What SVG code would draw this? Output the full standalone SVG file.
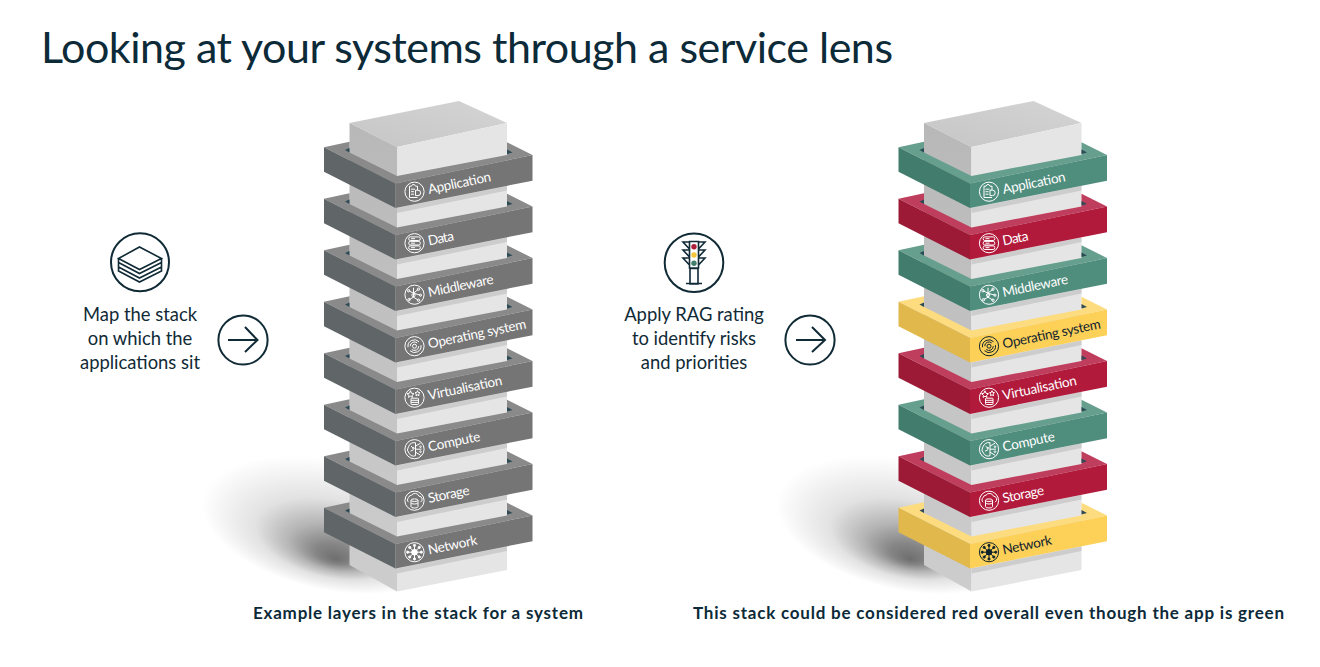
<svg xmlns="http://www.w3.org/2000/svg" width="1320" height="667" viewBox="0 0 1320 667">
<style>
.title{font:400 43px Lato,"Liberation Sans",sans-serif;fill:#0c2a38}
.body{font:400 18.4px Lato,"Liberation Sans",sans-serif;fill:#102a36;text-anchor:middle}
.cap{font:700 17px Lato,"Liberation Sans",sans-serif;fill:#0c2a38}
.lbl{font:400 13.5px Lato,"Liberation Sans",sans-serif;fill:currentColor}
.badge{fill:#fff;stroke:#102a36;stroke-width:2}
.ln{fill:none;stroke:#102a36;stroke-width:1.6;stroke-linejoin:miter}
.ic{fill:none;stroke:currentColor;stroke-width:1}
.gray{--t:#8a8a8a;--l:#606568;--r:#757575;color:#fff}
.green{--t:#669f8e;--l:#417c6c;--r:#4f8d7d;color:#fff}
.red{--t:#c03e5d;--l:#9c1a36;--r:#b21a3c;color:#fff}
.yellow{--t:#fddc7f;--l:#e0b84c;--r:#fdd058;color:#10242e}
.rt{fill:var(--t)}.rl{fill:var(--l)}.rr{fill:var(--r)}
</style>
<defs>
<radialGradient id="sh" gradientUnits="userSpaceOnUse" cx="0" cy="0" r="1" fx="0.1" fy="0.5" gradientTransform="translate(330 525) rotate(12) scale(130 65)">
<stop offset="0" stop-color="#6e6e6e"/><stop offset="0.15" stop-color="#858585"/><stop offset="0.35" stop-color="#b5b5b5"/><stop offset="0.6" stop-color="#e2e2e2"/><stop offset="1" stop-color="#fff"/>
</radialGradient>
<linearGradient id="cl" x1="0" y1="0" x2="0" y2="1"><stop offset="0" stop-color="#b8b8b8"/><stop offset="1" stop-color="#cdcdcd"/></linearGradient>
<linearGradient id="ct" x1="0" y1="1" x2="1" y2="0"><stop offset="0" stop-color="#c6c6c6"/><stop offset="1" stop-color="#d4d4d4"/></linearGradient>
<g id="shadow"><rect x="190" y="440" width="290" height="180" fill="url(#sh)"/></g>
<g id="column">
<polygon points="349.5,123 459,101 507,123 397,147" fill="url(#ct)"/>
<polygon points="349.5,123 397,147 397,591.5 349.5,565" fill="url(#cl)"/>
<polygon points="397,147 507,123 507,570 397,591.5" fill="#e5e5e5"/>
</g>
<g id="ring">
<polygon points="397,208 507,186 507,190.5 397,213" fill="#cdcdcd"/>
<polygon class="rt" points="324,147.3 349.5,141.7 349.5,152.5 397,176 507,155 507,142.3 532.5,155 395.5,183.5"/>
<polygon points="345,150 349.5,148 349.5,152.5" fill="#2d4a55"/>
<polygon points="507,149.5 512.5,152.5 507,154" fill="#2d4a55"/>
<polygon class="rl" points="324,147.3 395.5,183.5 395.5,208 324,171.7"/>
<polygon class="rr" points="395.5,183.5 532.5,155 532.5,180.7 395.5,208"/>
</g>
<g id="i-app" class="ic"><circle r="9.6"/><path d="M-5-5.5h2l1-1.6h2l1 1.6h2v4M3 5.8h-8v-11.3M-3.5-2.5h4M-3.5 0h3M-3.5 2.5h3M1-1.5h2.5a2.7 2.7 0 0 1 0 5.4H1z"/></g>
<g id="i-data" class="ic"><circle r="9.6"/><rect x="-5.8" y="-6.3" width="11.6" height="3.6" rx="1.6"/><rect x="-5.8" y="-1.8" width="11.6" height="3.6" rx="1.6"/><rect x="-5.8" y="2.7" width="11.6" height="3.6" rx="1.6"/><path d="M-3.5-4.5h4M-3.5 0h4M-3.5 4.5h4"/></g>
<g id="i-mw" class="ic"><circle r="9.6"/><path d="M-6-4-1-1.5 4-5.5M-1-1.5-1 2.5-5.5 5M-1 2.5 4 5.5M-1-1.5 6 .5M-1-7V-1.5"/><circle cx="-6" cy="-4" r="1.2"/><circle cx="4" cy="-5.5" r="1.2"/><circle cx="-5.5" cy="5" r="1.2"/><circle cx="4" cy="5.5" r="1.2"/><circle cx="6" cy=".5" r="1.1"/><circle cx="-1" cy=".5" r="1.6"/></g>
<g id="i-os" class="ic"><circle r="9.6"/><path d="M-6.5 1a6.5 6.5 0 0 1 11-5.5M6.5-1a6.5 6.5 0 0 1-11 5.5M-4.3 0a4.3 4.3 0 0 1 7-3.3M4.3 0a4.3 4.3 0 0 1-7 3.3"/><circle r="2"/></g>
<g id="i-virt" class="ic"><circle r="9.6"/><path d="M-4-7-3-4.5-.5-4-2.5-2.3-2-.3-4-1.5-6-.3-5.5-2.3-7.5-4-5-4.5zM3-7 3.7-5.3 5.5-5 4.2-3.8 4.5-2 3-2.8 1.5-2 1.8-3.8.5-5 2.3-5.3z"/><rect x="-3.5" y=".5" width="7.5" height="6.3" rx=".8"/><path d="M-3.5 2.6h7.5M-3.5 4.7h7.5"/></g>
<g id="i-comp" class="ic"><circle r="9.6"/><path d="M1-6.5A6.5 6.5 0 0 0-6-2.5a5 5 0 0 0 .5 6.5A5 5 0 0 0 1 6.5M1-6.5V6.5M-3.5-3-1-1M-4 2-1 .5M1-3 6-6M1 0H7M1 3 6 6"/><circle cx="-1" cy="-1" r=".8"/><circle cx="6" cy="-2.5" r=".8"/><circle cx="6" cy="2.5" r=".8"/></g>
<g id="i-stor" class="ic"><circle r="9.6"/><path d="M-6 1.5a3 3 0 0 1 0-4.5 3.4 3.4 0 0 1 3-2.5 4.3 4.3 0 0 1 7.5 1 3.2 3.2 0 0 1 1.5 6"/><ellipse cx="0" cy="-.5" rx="3.5" ry="1.3"/><path d="M-3.5-.5V6a3.5 1.3 0 0 0 7 0V-.5M-3.5 2a3.5 1.3 0 0 0 7 0"/></g>
<g id="i-net" class="ic"><circle r="9.6"/><circle r="2.8" fill="currentColor"/><path d="M0-7V7M-7 0H7M-5-5 5 5M-5 5 5-5"/><g fill="currentColor"><circle cy="-6.8" r="1.1"/><circle cy="6.8" r="1.1"/><circle cx="-6.8" r="1.1"/><circle cx="6.8" r="1.1"/><circle cx="-4.8" cy="-4.8" r="1.1"/><circle cx="4.8" cy="-4.8" r="1.1"/><circle cx="-4.8" cy="4.8" r="1.1"/><circle cx="4.8" cy="4.8" r="1.1"/></g></g>
</defs>

<text class="title" x="41" y="63" textLength="852">Looking at your systems through a service lens</text>

<g id="left-stack">
<use href="#shadow"/>
<use href="#column"/>
<g id="a-application" class="gray"><use href="#ring"/><use href="#i-app" x="414.5" y="191.7"/><text class="lbl" textLength="64" transform="translate(429 194) rotate(-11.7)">Application</text></g>
<g id="a-data" class="gray" transform="translate(0 51.5)"><use href="#ring"/><use href="#i-data" x="414.5" y="191.7"/><text class="lbl" textLength="26" transform="translate(429 194) rotate(-11.7)">Data</text></g>
<g id="a-middleware" class="gray" transform="translate(0 103)"><use href="#ring"/><use href="#i-mw" x="414.5" y="191.7"/><text class="lbl" textLength="66.5" transform="translate(429 194) rotate(-11.7)">Middleware</text></g>
<g id="a-os" class="gray" transform="translate(0 154.5)"><use href="#ring"/><use href="#i-os" x="414.5" y="191.7"/><text class="lbl" textLength="100" transform="translate(429 194) rotate(-11.7)">Operating system</text></g>
<g id="a-virtualisation" class="gray" transform="translate(0 206)"><use href="#ring"/><use href="#i-virt" x="414.5" y="191.7"/><text class="lbl" textLength="75.5" transform="translate(429 194) rotate(-11.7)">Virtualisation</text></g>
<g id="a-compute" class="gray" transform="translate(0 257.5)"><use href="#ring"/><use href="#i-comp" x="414.5" y="191.7"/><text class="lbl" textLength="53" transform="translate(429 194) rotate(-11.7)">Compute</text></g>
<g id="a-storage" class="gray" transform="translate(0 309)"><use href="#ring"/><use href="#i-stor" x="414.5" y="191.7"/><text class="lbl" textLength="42" transform="translate(429 194) rotate(-11.7)">Storage</text></g>
<g id="a-network" class="gray" transform="translate(0 360.5)"><use href="#ring"/><use href="#i-net" x="414.5" y="191.7"/><text class="lbl" textLength="50" transform="translate(429 194) rotate(-11.7)">Network</text></g>
</g>

<g id="right-stack" transform="translate(574.5 0)">
<use href="#shadow"/>
<use href="#column"/>
<g id="b-application" class="green"><use href="#ring"/><use href="#i-app" x="414.5" y="191.7"/><text class="lbl" textLength="64" transform="translate(429 194) rotate(-11.7)">Application</text></g>
<g id="b-data" class="red" transform="translate(0 51.5)"><use href="#ring"/><use href="#i-data" x="414.5" y="191.7"/><text class="lbl" textLength="26" transform="translate(429 194) rotate(-11.7)">Data</text></g>
<g id="b-middleware" class="green" transform="translate(0 103)"><use href="#ring"/><use href="#i-mw" x="414.5" y="191.7"/><text class="lbl" textLength="66.5" transform="translate(429 194) rotate(-11.7)">Middleware</text></g>
<g id="b-os" class="yellow" transform="translate(0 154.5)"><use href="#ring"/><use href="#i-os" x="414.5" y="191.7"/><text class="lbl" textLength="100" transform="translate(429 194) rotate(-11.7)">Operating system</text></g>
<g id="b-virtualisation" class="red" transform="translate(0 206)"><use href="#ring"/><use href="#i-virt" x="414.5" y="191.7"/><text class="lbl" textLength="75.5" transform="translate(429 194) rotate(-11.7)">Virtualisation</text></g>
<g id="b-compute" class="green" transform="translate(0 257.5)"><use href="#ring"/><use href="#i-comp" x="414.5" y="191.7"/><text class="lbl" textLength="53" transform="translate(429 194) rotate(-11.7)">Compute</text></g>
<g id="b-storage" class="red" transform="translate(0 309)"><use href="#ring"/><use href="#i-stor" x="414.5" y="191.7"/><text class="lbl" textLength="42" transform="translate(429 194) rotate(-11.7)">Storage</text></g>
<g id="b-network" class="yellow" transform="translate(0 360.5)"><use href="#ring"/><use href="#i-net" x="414.5" y="191.7"/><text class="lbl" textLength="50" transform="translate(429 194) rotate(-11.7)">Network</text></g>
</g>

<g id="map-step">
<circle cx="140" cy="263" r="29.3" fill="#000" opacity=".12"/>
<circle class="badge" cx="140" cy="262.3" r="29"/>
<path class="ln" d="M118.5 258.5 139.5 247 161.5 258.5 139.5 269.5Z M118.5 258.5V262.5L139.5 273.5 161.5 262.5V258.5 M118.5 262.5V267L139.5 278 161.5 267V262.5 M118.5 267V271L139.5 282 161.5 271V267"/>
<text class="body"><tspan x="140" y="321">Map the stack</tspan><tspan x="140" y="345">on which the</tspan><tspan x="140" y="369">applications sit</tspan></text>
</g>
<g id="arrow-1"><circle class="badge" cx="243" cy="340" r="24.6"/><path d="M228 340H257M245 327 257.5 340 245 352" fill="none" stroke="#102a36" stroke-width="2"/></g>

<g id="rag-step">
<circle cx="694" cy="263.5" r="29.6" fill="#000" opacity=".12"/>
<circle class="badge" cx="694" cy="262.7" r="29.3"/>
<path class="ln" d="M689.5 241.5H698.5V268H689.5Z M690 268.5H698V284H690Z M686 283.5H702 M689.5 242H683L689.5 249 M698.5 242H705L698.5 249 M689.5 250H683L689.5 257 M698.5 250H705L698.5 257 M689.5 258H683L689.5 265 M698.5 258H705L698.5 265"/>
<circle cx="694" cy="246.7" r="2.7" fill="#b01c3c"/><circle cx="694" cy="255" r="2.7" fill="#f3c63c"/><circle cx="694" cy="263.3" r="2.7" fill="#417c6c"/>
<text class="body"><tspan x="694" y="321">Apply RAG rating</tspan><tspan x="694" y="345">to identify risks</tspan><tspan x="694" y="369">and priorities</tspan></text>
</g>
<g id="arrow-2"><circle class="badge" cx="810" cy="340" r="24.6"/><path d="M796 340H825M812 327 825 340 812 352" fill="none" stroke="#102a36" stroke-width="2"/></g>

<text class="cap" x="253" y="619" textLength="330">Example layers in the stack for a system</text>
<text class="cap" x="693" y="619" textLength="591">This stack could be considered red overall even though the app is green</text>
</svg>
